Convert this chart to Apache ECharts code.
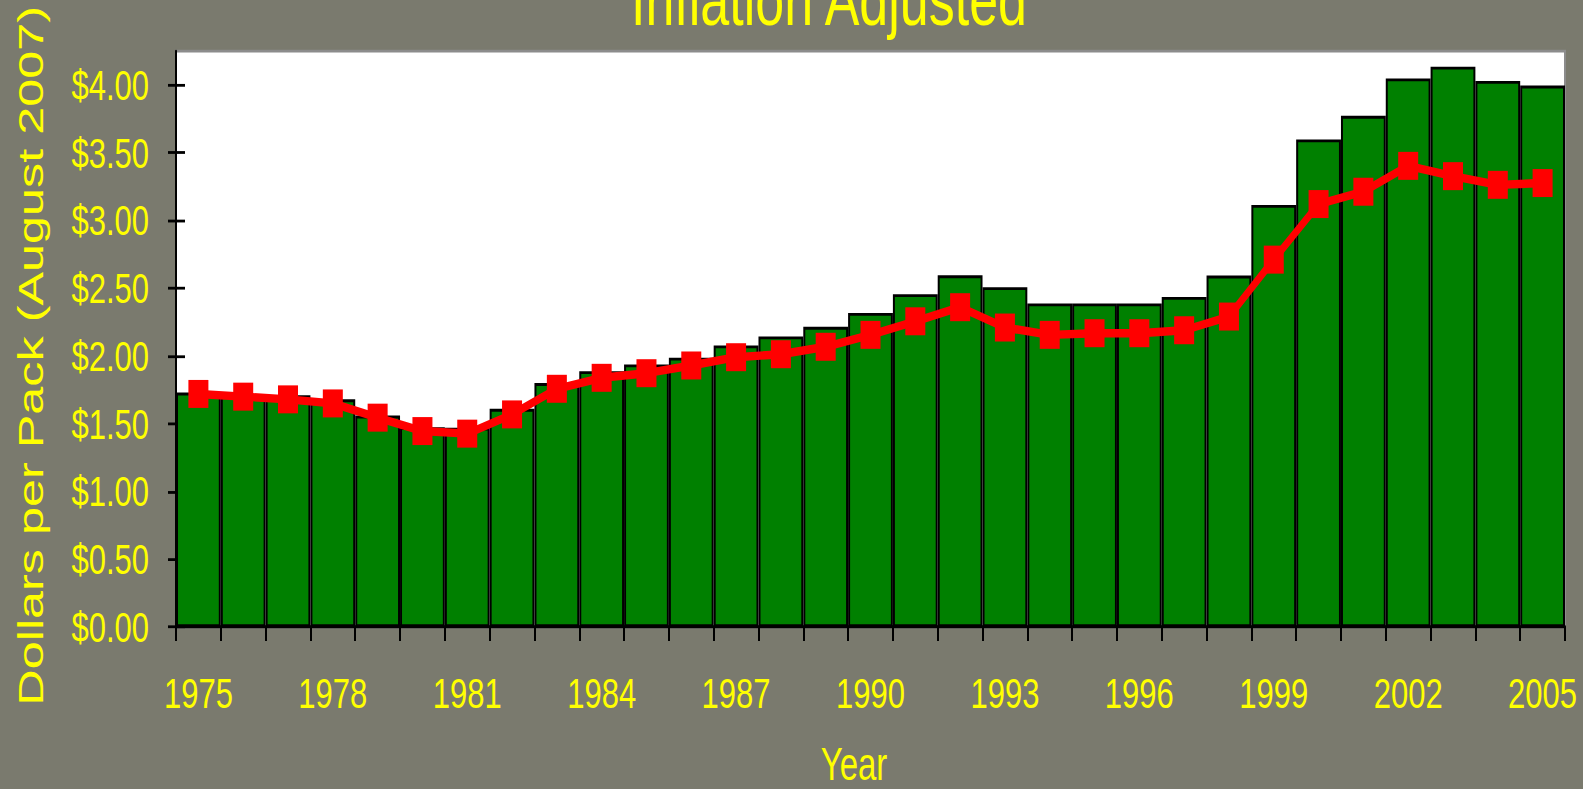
<!DOCTYPE html>
<html>
<head>
<meta charset="utf-8">
<title>Inflation Adjusted</title>
<script src="https://cdn.jsdelivr.net/npm/echarts@6/dist/echarts.min.js"></script>
<style>
  html, body { margin: 0; padding: 0; background: #7a7a6e; width: 1583px; height: 789px; }
  /* the original picture is stretched vertically, so draw at 564px and stretch to 789px */
  #chart { width: 1583px; height: 564px; transform: scaleY(1.399); transform-origin: 0 0; }
</style>
</head>
<body>
<div id="chart"></div>
<script>
// years on the x axis
const years = []
for (let y = 1975; y <= 2005; y++) years.push(String(y))

// bars: price per pack (green)
const barValues = [
  1.73, 1.72, 1.71, 1.68, 1.56, 1.475, 1.47, 1.61, 1.80, 1.888,
  1.937, 1.987, 2.077, 2.144, 2.215, 2.318, 2.455, 2.595, 2.507, 2.387,
  2.387, 2.387, 2.436, 2.593, 3.114, 3.597, 3.772, 4.047, 4.135, 4.03,
  3.995
]

// line: red series with square markers
const lineValues = [
  1.72, 1.70, 1.68, 1.65, 1.545, 1.446, 1.427, 1.569, 1.758, 1.839,
  1.873, 1.93, 1.991, 2.013, 2.068, 2.156, 2.256, 2.36, 2.21, 2.156,
  2.168, 2.168, 2.19, 2.291, 2.711, 3.121, 3.212, 3.403, 3.327, 3.263,
  3.276
]

// y axis tick labels
const priceTicks = [0, 0.5, 1, 1.5, 2, 2.5, 3, 3.5, 4]

const yellow = '#ffff00'
const font = '"Liberation Sans", Arial, sans-serif'

const chart = echarts.init(document.getElementById('chart'), null, { renderer: 'svg' })

const option = {
  backgroundColor: '#7a7a6e',
  animation: false,
  // title sits mostly above the top edge, like the reference
  graphic: [
    {
      type: 'text',
      x: 829,
      y: 0,
      style: {
        text: 'Inflation Adjusted',
        fill: yellow,
        fontSize: 52,
        fontFamily: font,
        align: 'center',
        verticalAlign: 'middle'
      }
    }
  ],
  grid: {
    left: 176,
    right: 18,
    top: 36.5,
    height: 411.7,
    show: true,
    backgroundColor: '#ffffff',
    borderColor: '#8c8c8c',
    borderWidth: 2,
    outerBoundsMode: 'none'
  },
  xAxis: {
    type: 'category',
    data: years,
    boundaryGap: true,
    name: 'Year',
    nameLocation: 'middle',
    nameGap: 82,
    nameTextStyle: {
      color: yellow,
      fontSize: 33,
      fontFamily: font,
      padding: [0, 33, 0, 0]
    },
    axisLine: { show: true, lineStyle: { color: '#000', width: 2 } },
    axisTick: { show: true, interval: 0, length: 10, lineStyle: { color: '#000', width: 2 } },
    axisLabel: {
      interval: 2,
      margin: 32,
      color: yellow,
      fontSize: 31,
      fontFamily: font
    },
    splitLine: { show: false }
  },
  yAxis: [
    {
      type: 'value',
      min: 0,
      max: 4.25,
      interval: 0.5,
      name: 'Dollars per Pack (August 2007)',
      nameLocation: 'middle',
      nameGap: 128,
      nameTextStyle: {
        color: yellow,
        fontSize: 36,
        fontFamily: font,
        padding: [0, 24, 0, 0]
      },
      axisLine: { show: true, lineStyle: { color: '#000', width: 2 } },
      axisTick: {
        show: true,
        length: 8,
        customValues: priceTicks,
        lineStyle: { color: '#000', width: 2 }
      },
      axisLabel: {
        customValues: priceTicks,
        margin: 27,
        color: yellow,
        fontSize: 31,
        fontFamily: font,
        formatter: (v) => '$' + v.toFixed(2)
      },
      splitLine: { show: false }
    },
    {
      // second axis only to draw the inner half of the crossing ticks
      type: 'value',
      min: 0,
      max: 4.25,
      interval: 0.5,
      position: 'left',
      axisLine: { show: false },
      axisTick: {
        show: true,
        inside: true,
        length: 9,
        customValues: priceTicks,
        lineStyle: { color: '#000', width: 2 }
      },
      axisLabel: { show: false },
      splitLine: { show: false }
    }
  ],
  series: [
    {
      name: 'Price',
      type: 'bar',
      data: barValues,
      barCategoryGap: 0,
      itemStyle: {
        color: '#008000',
        borderColor: '#000',
        borderWidth: 2
      }
    },
    {
      name: 'Adjusted',
      type: 'line',
      data: lineValues,
      symbol: 'rect',
      symbolSize: [20, 20],
      lineStyle: { color: '#ff0000', width: 6 },
      itemStyle: { color: '#ff0000' }
    }
  ]
}

chart.setOption(option)
</script>
</body>
</html>
